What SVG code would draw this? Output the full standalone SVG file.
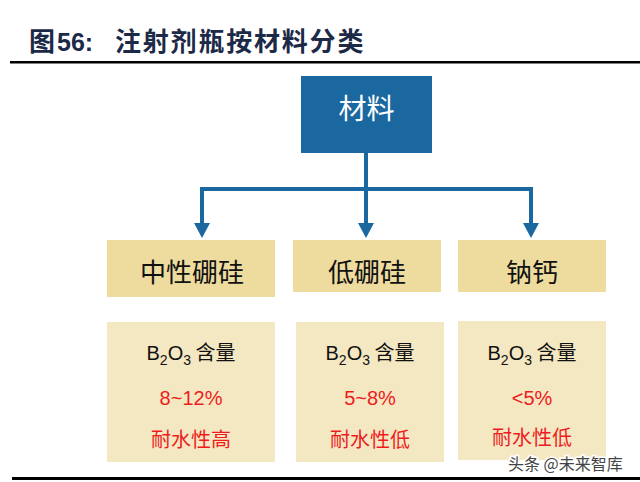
<svg xmlns="http://www.w3.org/2000/svg" width="640" height="482" viewBox="0 0 640 482">
<style>
.title{font-family:"Liberation Sans","Noto Sans CJK SC",sans-serif;font-weight:bold;font-size:26px;fill:#1c2a48}
.cat{fill:#eedc9f}
.info{fill:#f4e8c3}
.catt{font-family:"Noto Sans CJK SC",serif;font-size:26px;fill:#111;text-anchor:middle}
.b{font-family:"Liberation Sans","Noto Sans CJK SC",sans-serif;font-size:20px;fill:#111;text-anchor:middle}
.pct{font-family:"Liberation Sans",sans-serif;font-size:20px;fill:#ee1c1c;text-anchor:middle}
.res{font-family:"Noto Sans CJK SC",sans-serif;font-size:20px;fill:#ee1c1c;text-anchor:middle}
.conn{stroke:#1b68a0;stroke-width:4;fill:none}
.ah{fill:#1b68a0}
</style>
<rect width="640" height="482" fill="#fff"/>
<text class="title" x="29" y="51">图<tspan font-size="25" dx="2">56:</tspan></text>
<text class="title" x="115" y="51" letter-spacing="1.8">注射剂瓶按材料分类</text>
<rect x="10" y="61" width="630" height="2.5" fill="#000"/>

<g id="root">
<rect x="301" y="76" width="131" height="77" fill="#1b68a0"/>
<text x="366.5" y="119" font-family="Noto Sans CJK SC,sans-serif" font-size="28" fill="#fff" text-anchor="middle">材料</text>
</g>

<g id="connectors">
<path class="conn" d="M366 153V189M202 224V189H531V224M366 189V224"/>
<polygon class="ah" points="194,223 210,223 202,238"/>
<polygon class="ah" points="358,223 374,223 366,238"/>
<polygon class="ah" points="523,223 539,223 531,238"/>
</g>

<g id="cat1"><rect class="cat" x="107" y="240" width="168" height="57"/><text class="catt" x="192" y="282">中性硼硅</text></g>
<g id="cat2"><rect class="cat" x="293" y="240" width="148" height="52"/><text class="catt" x="367" y="282">低硼硅</text></g>
<g id="cat3"><rect class="cat" x="458" y="240" width="148" height="52"/><text class="catt" x="532" y="282">钠钙</text></g>

<g id="info1"><rect class="info" x="107" y="322" width="168" height="140"/>
<text class="b" x="191" y="360">B<tspan font-size="14" dy="5">2</tspan><tspan dy="-5">O</tspan><tspan font-size="14" dy="5">3</tspan><tspan dy="-5" font-family="Noto Sans CJK SC,sans-serif" font-size="20"> 含量</tspan></text>
<text class="pct" x="191" y="405">8~12%</text>
<text class="res" x="191" y="447">耐水性高</text></g>

<g id="info2"><rect class="info" x="296" y="322" width="148" height="140"/>
<text class="b" x="370" y="360">B<tspan font-size="14" dy="5">2</tspan><tspan dy="-5">O</tspan><tspan font-size="14" dy="5">3</tspan><tspan dy="-5" font-family="Noto Sans CJK SC,sans-serif" font-size="20"> 含量</tspan></text>
<text class="pct" x="370" y="405">5~8%</text>
<text class="res" x="370" y="447">耐水性低</text></g>

<g id="info3"><rect class="info" x="458" y="321" width="148" height="139"/>
<text class="b" x="532" y="360">B<tspan font-size="14" dy="5">2</tspan><tspan dy="-5">O</tspan><tspan font-size="14" dy="5">3</tspan><tspan dy="-5" font-family="Noto Sans CJK SC,sans-serif" font-size="20"> 含量</tspan></text>
<text class="pct" x="532" y="405">&lt;5%</text>
<text class="res" x="532" y="445">耐水性低</text></g>

<rect x="12" y="477" width="628" height="3" fill="#000"/>
<text x="508" y="470" font-family="Noto Sans CJK SC,sans-serif" font-size="16" fill="#444" stroke="#fff" stroke-width="3" paint-order="stroke">头条 @未来智库</text>
</svg>
